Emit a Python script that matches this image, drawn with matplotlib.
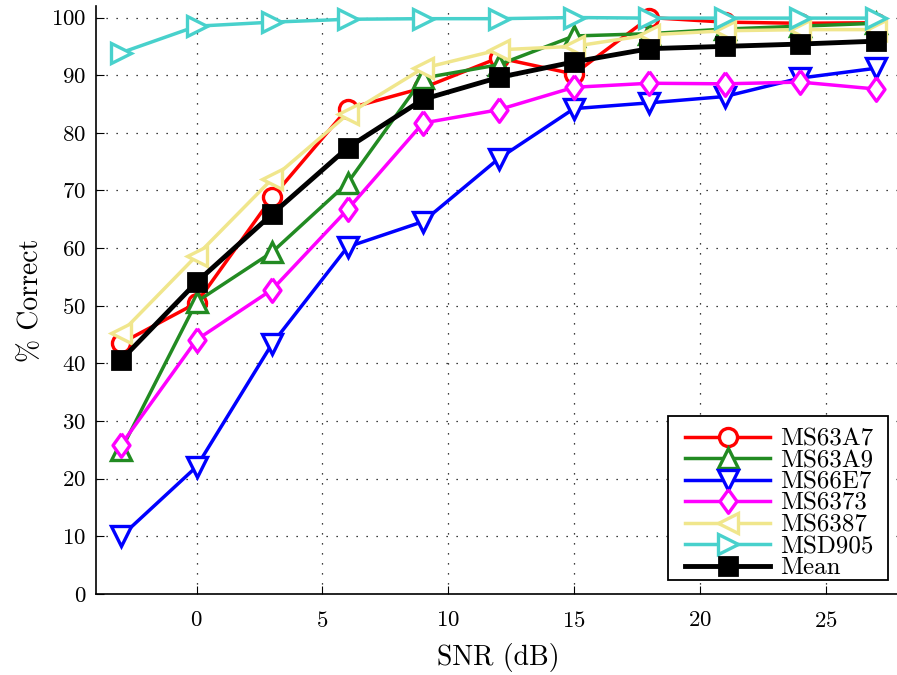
import matplotlib
matplotlib.use("Agg")
import matplotlib.pyplot as plt
from matplotlib.patches import Rectangle

snr = [-3, 0, 3, 6, 9, 12, 15, 18, 21, 24, 27]
ms63a7 = [43.5, 50.5, 68.8, 84.2, 87.8, 93.0, 90.2, 100.0, 99.2, 99.0, 99.1]
ms63a9 = [25.0, 50.7, 59.3, 71.3, 89.5, 91.8, 96.8, 97.2, 98.0, 98.5, 99.0]
ms66e7 = [10.0, 22.1, 43.4, 60.2, 64.6, 75.5, 84.2, 85.2, 86.3, 89.5, 91.2]
ms6373 = [25.9, 44.1, 52.8, 66.7, 81.7, 84.0, 87.9, 88.6, 88.5, 88.8, 87.6]
ms6387 = [45.3, 58.7, 72.0, 83.2, 91.2, 94.4, 95.0, 97.0, 97.7, 97.9, 97.9]
msd905 = [93.9, 98.5, 99.2, 99.7, 99.8, 99.8, 100.0, 99.9, 99.9, 99.9, 99.9]
mean = [40.6, 54.1, 65.9, 77.4, 85.8, 89.6, 92.3, 94.6, 95.0, 95.4, 95.9]

names = ["MS63A7", "MS63A9", "MS66E7", "MS6373", "MS6387", "MSD905", "Mean"]
series = [ms63a7, ms63a9, ms66e7, ms6373, ms6387, msd905, mean]
colors = ["#FF0000", "#228B22", "#0000FF", "#FF00FF", "#F0E68C", "#48D1CC", "#000000"]
diamond = [(0, 1), (0.72, 0), (0, -1), (-0.72, 0), (0, 1)]
markers = ["o", "^", "v", diamond, "<", ">", "s"]
msizes = [13, 15, 15, 17, 15, 15, 13]

xticks = [0, 5, 10, 15, 20, 25]
yticks = list(range(0, 101, 10))

plt.rcParams['font.family'] = ['cmr10', 'DejaVu Serif']
plt.rcParams['axes.formatter.use_mathtext'] = True
plt.rcParams['mathtext.fontset'] = 'cm'

fig = plt.figure(figsize=(8.97, 6.75), dpi=100)
ax = fig.add_axes([96/897, 81/675, (901-96)/897, (594-6)/675])

for name, y, c, m, s in zip(names, series, colors, markers, msizes):
    if name == "Mean":
        ax.plot(snr, y, color=c, marker=m, markersize=s, linewidth=3.5,
                markerfacecolor=c, markeredgecolor=c, markeredgewidth=2,
                label=name, clip_on=False)
    else:
        ax.plot(snr, y, color=c, marker=m, markersize=s, linewidth=2.5,
                markerfacecolor='white', markeredgecolor=c, markeredgewidth=2.4,
                label=name, clip_on=False)

ax.set_xlim(-4, 28)
ax.set_ylim(0, 102)
ax.set_xticks(xticks)
ax.set_yticks(yticks)
ax.tick_params(direction='in', length=5.5, width=0.8, labelsize=16.5,
               top=False, right=False)
ax.tick_params(axis='x', pad=12)
ax.tick_params(axis='y', pad=7)
ax.grid(True, color='black', linestyle=(0, (1, 7)), linewidth=0.9)
ax.set_axisbelow(True)
for sp in ['top', 'right']:
    ax.spines[sp].set_visible(False)
for sp in ['left', 'bottom']:
    ax.spines[sp].set_linewidth(1.2)

ax.set_xlabel("SNR (dB)", fontsize=20, labelpad=9)
ax.set_ylabel("% Correct", fontsize=20, labelpad=5)

# legend frame
ax.add_patch(Rectangle(((668-96)/805, (594-580)/588), 220/805, 164/588,
                       transform=ax.transAxes, facecolor='white', edgecolor='black',
                       linewidth=1.3, zorder=4.5, clip_on=False))
leg = ax.legend(loc='upper left', bbox_to_anchor=((685-96)/805, (594-428)/588),
                borderaxespad=0, borderpad=0, frameon=False,
                fontsize=18, numpoints=1, handlelength=3.4, labelspacing=-0.04,
                handletextpad=0.4)
leg.set_zorder(5)

fig.savefig("out.png", dpi=100)
